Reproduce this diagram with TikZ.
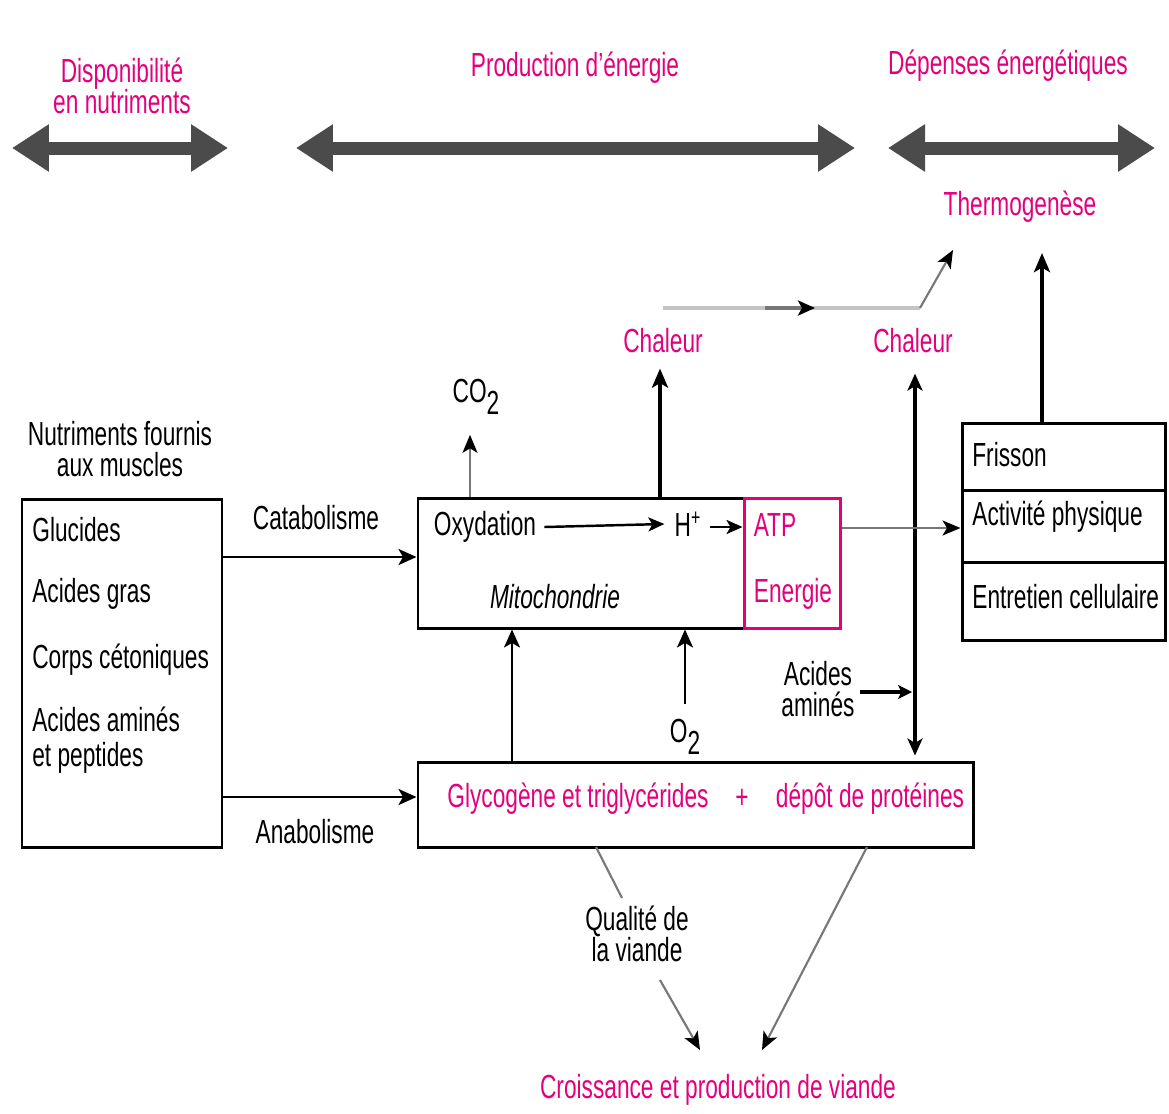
\documentclass[tikz,border=0pt]{standalone}
\usepackage{fontspec}
\setmainfont{Liberation Sans}[FakeStretch=0.68]
\usetikzlibrary{arrows.meta,calc,fit}
\definecolor{pinkc}{HTML}{E4007C}
\definecolor{bandgrey}{HTML}{4B4B4B}
\definecolor{lightline}{HTML}{C4C4C4}
\definecolor{midline}{HTML}{777777}

\begin{document}
\begin{tikzpicture}[x=0.02cm,y=-0.02cm,
  every node/.style={font=\fontsize{19}{18}\selectfont, inner sep=0pt, align=center},
  pinktxt/.style={text=pinkc},
  tight/.style={font=\fontsize{19}{17.5}\selectfont},
  bandarrow/.style={draw=bandgrey, line width=0.26cm,
    {Triangle[length=0.74cm,width=0.9cm]}-{Triangle[length=0.74cm,width=0.9cm]}},
  box/.style={draw, line width=1.7pt, inner sep=0pt},
  flow/.style={line width=1.6pt, -{Stealth[length=0.36cm,width=0.32cm,inset=0.09cm]}},
  thick flow/.style={line width=2.4pt, -{Stealth[length=0.38cm,width=0.32cm,inset=0.09cm]}},
  thin flow/.style={draw=midline, line width=1.2pt, -{Stealth[length=0.36cm,width=0.3cm,inset=0.09cm,color=black]}},
]
\useasboundingbox (0,0) rectangle (1169,1113);

% ---- headings and bands ----
\node[pinktxt] (hdisp) at (122,86) {Disponibilité\\en nutriments};
\node[pinktxt] (hprod) at (575,68) {Production d'énergie};
\node[pinktxt] (hdep)  at (1008,66) {Dépenses énergétiques};
\coordinate (b1l) at (12,148);  \coordinate (b1r) at (228,148);
\coordinate (b2l) at (296,148); \coordinate (b2r) at (855,148);
\coordinate (b3l) at (888,148); \coordinate (b3r) at (1155,148);
\draw[bandarrow] (b1l) -- (b1r);
\draw[bandarrow] (b2l) -- (b2r);
\draw[bandarrow] (b3l) -- (b3r);

\node[pinktxt] (thermo) at (1020,207) {Thermogenèse};
\node[pinktxt] (chal1) at (663,341) {Chaleur};
\node[pinktxt] (chal2) at (913,341) {Chaleur};

% ---- boxes ----
\node[box, fit={(22,499) (222,847)}] (nutr) {};
\node[box, fit={(418,498) (744,628)}] (mito) {};
\node[box, draw=pinkc, fit={(744,498) (840,628)}] (atpbox) {};
\node[box, fit={(962,423) (1165,490)}] (frbox) {};
\node[box, fit={(962,490) (1165,562)}] (actbox) {};
\node[box, fit={(962,562) (1165,640)}] (entbox) {};
\node[box, fit={(418,762) (973,847)}] (depot) {};

% ---- texts ----
\node[tight] (nfm) at (120,449) {Nutriments fournis\\aux muscles};
\node[anchor=west] (gluc) at (32,530) {Glucides};
\node[anchor=west] (agras) at (32,594) {Acides gras};
\node[anchor=west] (corps) at (32,660) {Corps cétoniques};
\node[anchor=west, align=left, font=\fontsize{19}{20}\selectfont] (aamin) at (32,740) {Acides aminés\\et peptides};
\node (catab) at (316,518) {Catabolisme};
\node (anab) at (315,832) {Anabolisme};

\node (ox) at (485,527) {Oxydation};
\node (hp) at (688,524) {H\textsuperscript{+}};
\node[pinktxt] (atp) at (775,525) {ATP};
\node[pinktxt] (ener) at (793,594) {Energie};
\node[font=\fontsize{19}{18}\selectfont\itshape] (mitot) at (555,597) {Mitochondrie};
\node (co2) at (476,397) {CO\raisebox{-0.35em}{2}};
\node (o2) at (685,737) {O\raisebox{-0.35em}{2}};

\node[anchor=west] (fris) at (972,455) {Frisson};
\node[anchor=west] (act) at (972,517) {Activité physique};
\node[anchor=west] (entr) at (972,597) {Entretien cellulaire};

\node (aa) at (818,689) {Acides\\aminés};

\node[pinktxt] (glyco) at (578,799) {Glycogène et triglycérides};
\node[pinktxt] (plus) at (742,799) {+};
\node[pinktxt] (prot) at (870,799) {dépôt de protéines};

\node[tight] (qual) at (637,934) {Qualité de\\la viande};
\node[pinktxt] (crois) at (718,1090) {Croissance et production de viande};

% ---- connectors ----
\coordinate (ycat) at (0,557);
\coordinate (yana) at (0,797);
\draw[flow] (nutr.east |- ycat) -- (mito.west |- ycat);
\draw[flow] (nutr.east |- yana) -- (depot.west |- yana);

\draw[line width=1.4pt, -{Stealth[length=0.32cm,width=0.28cm,inset=0.08cm]}]
  ([xshift=0.16cm]ox.east) -- ([xshift=-0.2cm]hp.west);
\draw[line width=1.4pt, -{Stealth[length=0.32cm,width=0.28cm,inset=0.08cm]}]
  ([xshift=0.16cm]hp.east |- ox.east) -- (atpbox.west |- ox.east);

\coordinate (xco2) at (470,0);
\draw[thin flow] (mito.north -| xco2) -- ([yshift=-0.4cm]co2.south -| xco2);

\coordinate (xch1) at (660,0);
\draw[thick flow] (mito.north -| xch1) -- ([yshift=-0.3cm]chal1.south -| xch1);

\coordinate (xch2) at (915,0);
\draw[line width=2pt, {Stealth[length=0.34cm,width=0.3cm,inset=0.09cm]}-{Stealth[length=0.34cm,width=0.3cm,inset=0.09cm]},
  shorten <=0.1cm]
  (depot.north -| xch2) -- ([yshift=-0.4cm]chal2.south -| xch2);

\coordinate (yaa) at (0,692);
\draw[line width=2.6pt, -{Stealth[length=0.28cm,width=0.28cm,inset=0.07cm]}]
  ([xshift=0.1cm]aa.east |- yaa) -- ([xshift=-0.06cm]xch2 |- yaa);

\coordinate (xth) at (1042,0);
\draw[thick flow] (frbox.north -| xth) -- ([yshift=-0.6cm]thermo.south -| xth);

\coordinate (yatp) at (0,528);
\draw[thin flow] (atpbox.east |- yatp) -- (actbox.west |- yatp);

\coordinate (xgl) at (512,0);
\draw[flow, line width=1.4pt] (depot.north -| xgl) -- (mito.south -| xgl);
\coordinate (xo2) at (685,0);
\draw[flow, line width=1.4pt] ([yshift=0.3cm]o2.north -| xo2) -- (mito.south -| xo2);

% heat carried towards thermogenesis
\coordinate (hl) at (663,308);
\coordinate (hm) at (765,308);
\coordinate (ha) at (815,308);
\coordinate (hr) at (920,308);
\coordinate (ht) at (953,250);
\draw[lightline, line width=2.4pt] (hl) -- (hr);
\draw[midline, line width=2.6pt, -{Stealth[length=0.34cm,width=0.3cm,inset=0.08cm,color=black]}] (hm) -- (ha);
\draw[thin flow] (hr) -- (ht);

% towards meat production
\coordinate (q1) at (596,847);
\coordinate (q2) at (622,898);
\coordinate (q3) at (660,980);
\coordinate (q4) at (700,1050);
\coordinate (p1) at (867,847);
\coordinate (p2) at (762,1050);
\draw[midline, line width=1.2pt] (q1) -- (q2);
\draw[thin flow] (q3) -- (q4);
\draw[thin flow] (p1) -- (p2);
\end{tikzpicture}
\end{document}
